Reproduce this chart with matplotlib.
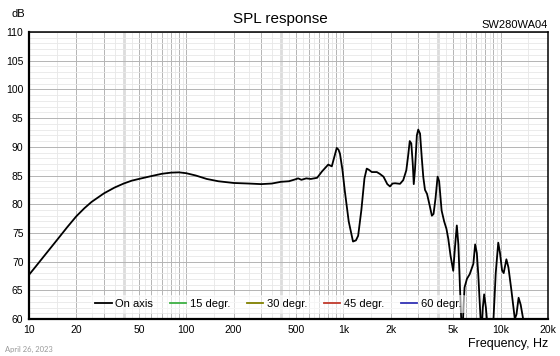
import numpy as np
import matplotlib
matplotlib.use('Agg')
import matplotlib.pyplot as plt

plt.rcParams['font.family'] = ['Liberation Sans', 'DejaVu Sans']

# on-axis SPL
freq = [10, 11, 12.5, 15, 17.5, 20, 22.5, 25, 30, 35, 40, 45, 50, 60, 70, 80, 90,
        100, 115, 135, 160, 200, 250, 300, 350, 400, 450, 490, 515, 540, 580, 620,
        680, 730, 800, 843, 880, 906, 930, 950, 985, 1019, 1080, 1150, 1200, 1240,
        1300, 1360, 1406, 1450, 1515, 1630, 1700, 1797, 1900, 1976, 2050, 2130,
        2290, 2400, 2510, 2580, 2640, 2700, 2760, 2800, 2850, 2930, 2990, 3070,
        3150, 3220, 3300, 3400, 3520, 3650, 3740, 3850, 3970, 4060, 4210, 4370,
        4520, 4640, 4800, 4990, 5120, 5260, 5380, 5500, 5600, 5720, 5800, 5890,
        6100, 6350, 6700, 6880, 7050, 7200, 7450, 7550, 7700, 7850, 8050, 8200,
        8500, 8800, 9000, 9300, 9650, 9900, 10200, 10450, 10870, 11200, 11700,
        12300, 12600, 13000, 13400, 14000, 14500, 16000, 18000, 20000]
spl = [67.7, 69.1, 71.0, 73.7, 76.0, 77.9, 79.3, 80.4, 81.9, 82.9, 83.6, 84.1, 84.4,
       84.9, 85.3, 85.5, 85.55, 85.4, 85.0, 84.4, 84.0, 83.7, 83.6, 83.5, 83.6, 83.9,
       84.0, 84.3, 84.5, 84.25, 84.5, 84.4, 84.6, 85.7, 86.9, 86.6, 88.5, 89.8, 89.5,
       88.8, 86.0, 82.4, 77.0, 73.5, 73.7, 74.5, 79.0, 84.5, 86.2, 86.0, 85.6, 85.6,
       85.3, 84.8, 83.5, 83.1, 83.6, 83.65, 83.55, 84.2, 85.9, 88.5, 91.0, 90.6, 87.0,
       83.5, 86.0, 92.0, 93.0, 92.3, 88.0, 84.7, 82.5, 81.8, 80.0, 78.0, 78.3, 81.0,
       84.8, 84.0, 78.9, 77.0, 75.7, 74.0, 71.0, 68.4, 72.5, 76.3, 73.0, 66.0, 60.5,
       57.5, 62.0, 65.5, 67.0, 67.8, 69.6, 73.0, 71.5, 67.8, 60.0, 57.5, 62.0, 64.3,
       62.0, 59.5, 55.0, 56.0, 60.0, 68.0, 73.3, 71.5, 68.5, 68.0, 70.4, 69.0, 65.0,
       60.0, 60.8, 63.7, 62.5, 59.5, 55.0, 52.0, 50.0, 48.0]

series = ['On axis', '15 degr.', '30 degr.', '45 degr.', '60 degr.']
colors = ['black', '#3cb043', '#808000', '#c0392b', '#3232b4']

xticks = [10, 20, 50, 100, 200, 500, 1000, 2000, 5000, 10000, 20000]
xticklabels = ['10', '20', '50', '100', '200', '500', '1k', '2k', '5k', '10k', '20k']
yticks = list(range(60, 111, 5))

fig = plt.figure(figsize=(5.6, 3.56), dpi=100)
ax = fig.add_axes([0.0518, 0.1039, 0.9268, 0.8062])
ax.set_xscale('log')
ax.set_xlim(10, 20000)
ax.set_ylim(60, 110)

# grid
for dec in [10, 100, 1000, 10000]:
    for n in np.arange(1, 10, 0.5):
        f = dec * n
        if f > 20000:
            continue
        if n == 4:
            ax.axvline(f, color='#dcdcdc', lw=2.0, zorder=0)
        elif n % 1 == 0:
            ax.axvline(f, color='#b4b4b4', lw=0.7, zorder=0)
        else:
            ax.axvline(f, color='#e6e6e6', lw=0.6, zorder=0)
for v in range(60, 111):
    if v % 5 == 0:
        ax.axhline(v, color='#b4b4b4', lw=0.7, zorder=0)
    else:
        ax.axhline(v, color='#e8e8e8', lw=0.6, zorder=0)

ax.plot(freq, spl, color='black', lw=1.3, label=series[0], zorder=3)
for name, c in zip(series[1:], colors[1:]):
    ax.plot([], [], color=c, lw=1.3, label=name)

ax.set_xticks(xticks)
ax.set_xticklabels(xticklabels)
ax.xaxis.set_minor_locator(matplotlib.ticker.NullLocator())
ax.set_yticks(yticks)
ax.tick_params(length=0, labelsize=7.5, pad=4)

for s in ['left', 'bottom']:
    ax.spines[s].set_linewidth(1.6)
for s in ['top', 'right']:
    ax.spines[s].set_linewidth(1.1)

leg = ax.legend(loc='lower center', bbox_to_anchor=(0.48, 0.0), ncol=5, frameon=True,
                fontsize=8, handlelength=1.5, handletextpad=0.3, columnspacing=1.5,
                borderaxespad=0.5)
leg.get_frame().set_facecolor('white')
leg.get_frame().set_alpha(0.6)
leg.get_frame().set_linewidth(0)

fig.text(0.5, 0.948, 'SPL response', ha='center', va='center', fontsize=11)
fig.text(0.9786, 0.93, 'SW280WA04', ha='right', va='center', fontsize=8)
fig.text(0.021, 0.962, 'dB', ha='left', va='center', fontsize=8)
fig.text(0.9786, 0.034, 'Frequency, Hz', ha='right', va='center', fontsize=9)
fig.text(0.009, 0.018, 'April 26, 2023', ha='left', va='center', fontsize=5.5,
         color='#999999', family=['Lato', 'DejaVu Sans'])

fig.savefig('out.png', dpi=100)
